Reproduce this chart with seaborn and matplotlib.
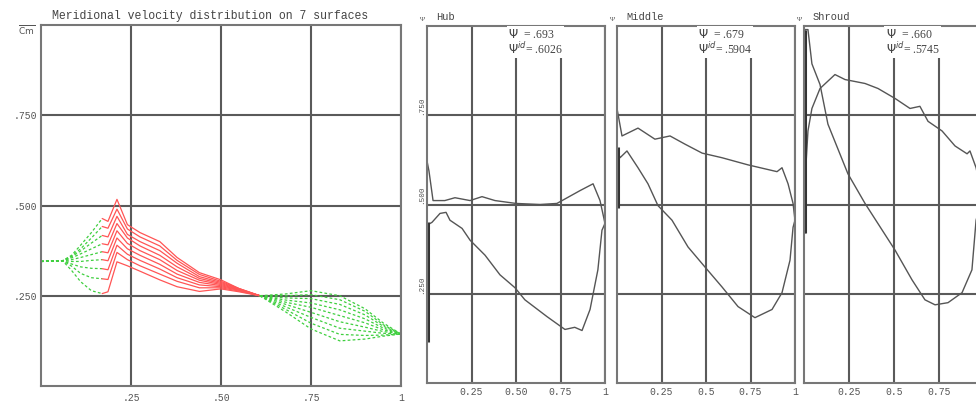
import numpy as np
import pandas as pd
import matplotlib
matplotlib.use("Agg")
import matplotlib.pyplot as plt
import seaborn as sns

# ---- left panel: meridional velocity on the surfaces ----
x_up = [0.0, 0.06, 0.085, 0.11, 0.14, 0.17]
y_up = [
    [0.345, 0.347, 0.320, 0.289, 0.264, 0.256],
    [0.345, 0.347, 0.332, 0.312, 0.300, 0.297],
    [0.345, 0.347, 0.338, 0.330, 0.326, 0.325],
    [0.345, 0.347, 0.345, 0.345, 0.348, 0.350],
    [0.345, 0.347, 0.350, 0.356, 0.364, 0.372],
    [0.345, 0.347, 0.355, 0.366, 0.380, 0.394],
    [0.345, 0.347, 0.358, 0.374, 0.396, 0.417],
    [0.345, 0.347, 0.360, 0.380, 0.410, 0.442],
    [0.345, 0.347, 0.362, 0.390, 0.425, 0.464],
]

x_blade = [0.17, 0.186, 0.211, 0.24, 0.275, 0.33, 0.378, 0.44, 0.50, 0.55, 0.608]
y_blade = [
    [0.256, 0.261, 0.344, 0.333, 0.318, 0.294, 0.275, 0.262, 0.269, 0.261, 0.250],
    [0.297, 0.295, 0.370, 0.350, 0.333, 0.310, 0.290, 0.272, 0.272, 0.263, 0.250],
    [0.325, 0.322, 0.390, 0.365, 0.348, 0.324, 0.300, 0.280, 0.275, 0.265, 0.250],
    [0.350, 0.347, 0.410, 0.380, 0.362, 0.337, 0.310, 0.287, 0.278, 0.266, 0.250],
    [0.372, 0.369, 0.430, 0.395, 0.375, 0.350, 0.320, 0.293, 0.281, 0.267, 0.250],
    [0.394, 0.391, 0.450, 0.410, 0.388, 0.362, 0.330, 0.298, 0.284, 0.268, 0.250],
    [0.417, 0.413, 0.470, 0.420, 0.400, 0.375, 0.340, 0.303, 0.287, 0.269, 0.250],
    [0.442, 0.437, 0.490, 0.435, 0.413, 0.388, 0.348, 0.309, 0.290, 0.270, 0.250],
    [0.464, 0.456, 0.517, 0.447, 0.425, 0.400, 0.356, 0.314, 0.294, 0.270, 0.250],
]

x_down = [0.608, 0.68, 0.75, 0.83, 0.90, 0.95, 1.0]
y_down = [
    [0.250, 0.205, 0.158, 0.125, 0.130, 0.138, 0.144],
    [0.250, 0.212, 0.174, 0.143, 0.140, 0.141, 0.144],
    [0.250, 0.219, 0.190, 0.160, 0.152, 0.146, 0.144],
    [0.250, 0.226, 0.204, 0.178, 0.163, 0.151, 0.144],
    [0.250, 0.232, 0.218, 0.195, 0.175, 0.156, 0.144],
    [0.250, 0.238, 0.230, 0.211, 0.186, 0.161, 0.144],
    [0.250, 0.244, 0.242, 0.226, 0.197, 0.166, 0.144],
    [0.250, 0.250, 0.253, 0.239, 0.207, 0.170, 0.144],
    [0.250, 0.255, 0.264, 0.250, 0.214, 0.175, 0.144],
]

# ---- right panels: loading curves on hub / middle / shroud ----
hub_a_x = [0.0, 0.011, 0.034, 0.10, 0.157, 0.242, 0.309, 0.382, 0.5, 0.635, 0.73, 0.86, 0.933, 0.972, 1.0]
hub_a_y = [0.622, 0.594, 0.511, 0.511, 0.519, 0.511, 0.522, 0.511, 0.503, 0.500, 0.503, 0.539, 0.558, 0.511, 0.447]
hub_b_x = [0.0, 0.0, 0.028, 0.073, 0.107, 0.129, 0.197, 0.242, 0.326, 0.41, 0.494, 0.55, 0.674, 0.775, 0.83, 0.871, 0.916, 0.96, 0.983, 1.0]
hub_b_y = [0.114, 0.442, 0.450, 0.475, 0.478, 0.456, 0.433, 0.400, 0.358, 0.303, 0.267, 0.233, 0.186, 0.150, 0.156, 0.147, 0.206, 0.317, 0.428, 0.447]

mid_a_x = [0.0, 0.028, 0.118, 0.213, 0.298, 0.382, 0.478, 0.59, 0.736, 0.899, 0.927, 0.961, 0.989, 1.0]
mid_a_y = [0.769, 0.692, 0.714, 0.683, 0.692, 0.669, 0.644, 0.631, 0.611, 0.592, 0.603, 0.558, 0.503, 0.456]
mid_b_x = [0.0, 0.0, 0.017, 0.056, 0.118, 0.174, 0.23, 0.309, 0.399, 0.494, 0.59, 0.68, 0.775, 0.871, 0.927, 0.972, 0.989, 1.0]
mid_b_y = [0.169, 0.656, 0.631, 0.650, 0.603, 0.558, 0.497, 0.456, 0.381, 0.325, 0.269, 0.214, 0.183, 0.206, 0.253, 0.344, 0.436, 0.456]

shr_a_x = [0.005, 0.005, 0.022, 0.044, 0.089, 0.133, 0.244, 0.339, 0.506, 0.60, 0.672, 0.728, 0.80, 0.878, 0.933, 0.956, 0.99]
shr_a_y = [0.42, 0.99, 0.99, 0.894, 0.836, 0.725, 0.586, 0.503, 0.372, 0.289, 0.233, 0.219, 0.225, 0.253, 0.317, 0.456, 0.52]
shr_b_x = [0.012, 0.022, 0.044, 0.089, 0.172, 0.228, 0.339, 0.411, 0.506, 0.589, 0.644, 0.689, 0.767, 0.839, 0.906, 0.922, 0.956, 0.99]
shr_b_y = [0.62, 0.706, 0.769, 0.825, 0.864, 0.850, 0.839, 0.825, 0.797, 0.769, 0.775, 0.733, 0.706, 0.664, 0.642, 0.650, 0.603, 0.52]

# dark overdrawn stretch along the leading edge (x, y_from, y_to) for each panel
lead_edge = [(0.003, 0.115, 0.45), (0.003, 0.49, 0.66), (0.006, 0.42, 0.99)]

panel_names = ["Hub", "Middle", "Shroud"]
psi_vals = [".693", ".679", ".660"]
psi_id_vals = [".6026", ".5904", ".5745"]
right_xticks = [[0.25, 0.5, 0.75, 1.0], [0.25, 0.5, 0.75, 1.0], [0.25, 0.5, 0.75]]
right_xticklabels = [["0.25", "0.50", "0.75", "1"],
                     ["0.25", "0.5", "0.75", "1"],
                     ["0.25", "0.5", "0.75"]]


def long_form(xs, ys):
    rows = []
    for i, yy in enumerate(ys):
        for j, (a, b) in enumerate(zip(xs, yy)):
            rows.append({"line": i, "order": j, "x": a, "y": b})
    return pd.DataFrame(rows)


sns.set_theme(style="white")
MONO = ["Liberation Mono", "DejaVu Sans Mono"]
SERIF = ["Liberation Serif", "DejaVu Serif"]
plt.rcParams["font.family"] = MONO
GRID = "#5a5a5a"
TXT = "#555555"

fig = plt.figure(figsize=(9.76, 4.01), dpi=100)
W, H = 976.0, 401.0


def make_axes(px0, px1, py_top, py_bot):
    return fig.add_axes([px0 / W, 1 - py_bot / H, (px1 - px0) / W, (py_bot - py_top) / H])


def style_axes(ax):
    ax.set_xlim(0, 1)
    ax.set_ylim(0, 1)
    ax.set_axisbelow(True)
    ax.grid(True, color=GRID, lw=1.5)
    for s in ax.spines.values():
        s.set_color("#777777")
        s.set_linewidth(1.5)
    ax.tick_params(length=0, colors=TXT, labelsize=7)
    ax.set_xlabel("")
    ax.set_ylabel("")


# left panel
ax0 = make_axes(41, 401, 25, 386)
for xs, ys, col, dash in [(x_up, y_up, "#3fcf3f", (2.2, 1.8)),
                          (x_blade, y_blade, "#ff5555", None),
                          (x_down, y_down, "#3fcf3f", (2.2, 1.8))]:
    df = long_form(xs, ys)
    sns.lineplot(data=df, x="x", y="y", units="line", estimator=None, sort=False,
                 color=col, lw=0.9, ax=ax0, legend=False)
    if dash is not None:
        for ln in ax0.lines[-len(ys):]:
            ln.set_dashes(dash)
style_axes(ax0)
ax0.set_xticks([0.25, 0.5, 0.75, 1.0], [".25", ".50", ".75", "1"])
ax0.set_yticks([0.25, 0.5, 0.75], [".250", ".500", ".750"])
ax0.tick_params(axis="x", pad=5)
ax0.tick_params(axis="y", pad=3)
ax0.text(0.03, 1.008, "Meridional velocity distribution on 7 surfaces",
         transform=ax0.transAxes, fontsize=8.3, color="#444444", va="bottom", ha="left")
ax0.text(-0.04, 0.985, r"$\overline{\mathrm{Cm}}$", transform=ax0.transAxes,
         fontsize=6.5, color=TXT, ha="center", va="center")

# right panels
bounds = [(427, 605), (617, 795), (804, 984)]
curves = [((hub_a_x, hub_a_y), (hub_b_x, hub_b_y)),
          ((mid_a_x, mid_a_y), (mid_b_x, mid_b_y)),
          ((shr_a_x, shr_a_y), (shr_b_x, shr_b_y))]
for k in range(3):
    ax = make_axes(bounds[k][0], bounds[k][1], 26, 383)
    for (cx, cy) in curves[k]:
        df = pd.DataFrame({"x": cx, "y": cy})
        sns.lineplot(data=df, x="x", y="y", sort=False, estimator=None,
                     color="#555555", lw=1.0, ax=ax)
    lx, ly0, ly1 = lead_edge[k]
    ax.plot([lx, lx], [ly0, ly1], color="#333333", lw=2.2, solid_capstyle="butt")
    style_axes(ax)
    ax.set_xticks(right_xticks[k], right_xticklabels[k])
    ax.tick_params(axis="x", pad=3)
    if k == 0:
        ax.set_yticks([0.25, 0.5, 0.75], [".250", ".500", ".750"])
        for lab in ax.get_yticklabels():
            lab.set_rotation(90)
            lab.set_va("bottom")
            lab.set_fontsize(5.5)
        ax.tick_params(axis="y", pad=1)
    else:
        ax.set_yticks([0.25, 0.5, 0.75], ["", "", ""])
    ax.text(0.05, 1.012, panel_names[k], transform=ax.transAxes, fontsize=7.5,
            color="#444444", va="bottom", ha="left")
    ax.text(-0.03, 1.01, "Ψ", transform=ax.transAxes, fontsize=5,
            color=TXT, va="bottom", ha="center", family=SERIF)
    ax.text(0.455, 0.955, r"$\Psi$  = " + psi_vals[k] + "\n" + r"$\Psi^{id}$= " + psi_id_vals[k],
            transform=ax.transAxes, fontsize=8.5, color="#444444", va="center", ha="left",
            family=SERIF, linespacing=1.0, zorder=5,
            bbox=dict(facecolor="white", edgecolor="none", pad=1.0))

fig.savefig("out.png", dpi=100)
